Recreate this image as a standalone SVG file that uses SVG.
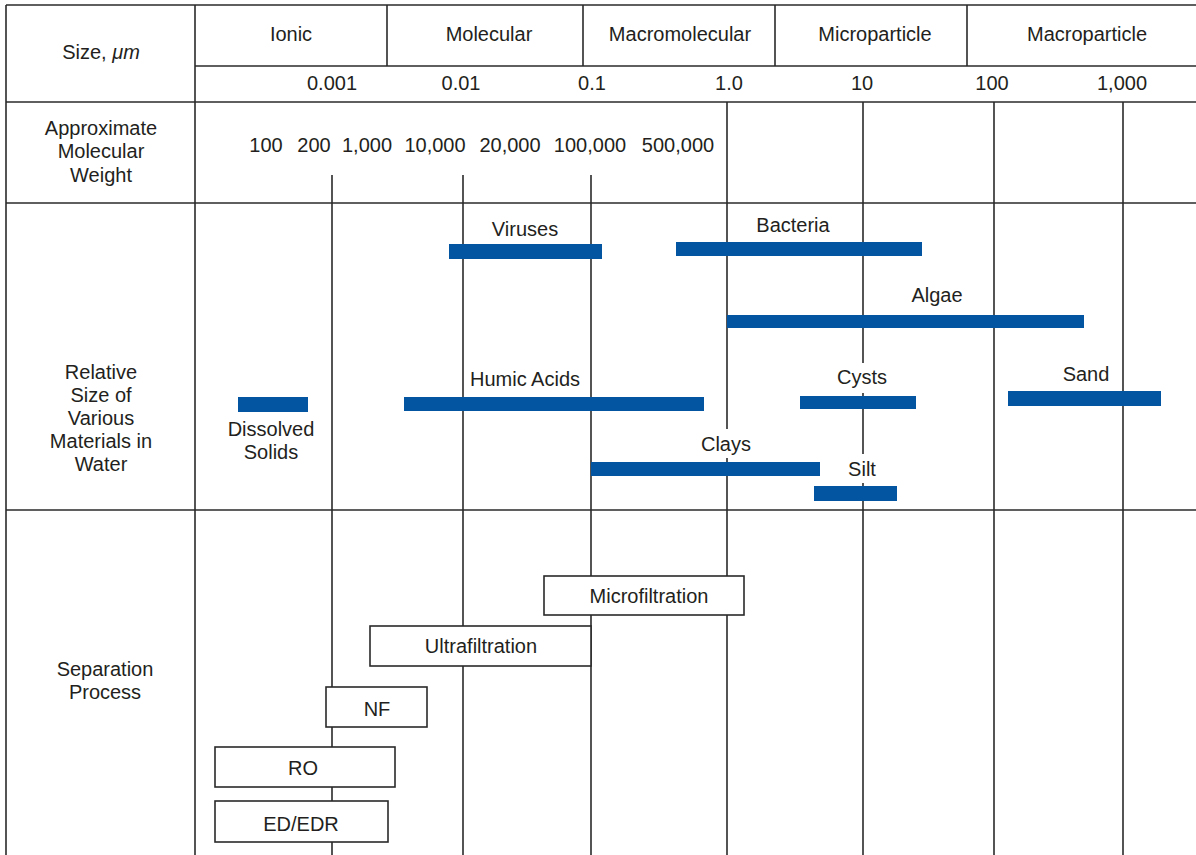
<svg xmlns="http://www.w3.org/2000/svg" width="1196" height="855" viewBox="0 0 1196 855">
<style>
text{font-family:"Liberation Sans",Arial,sans-serif;font-size:20px;fill:#231f20;text-anchor:middle}
.ln{stroke:#2a2a2a;stroke-width:1.6;fill:none}
.bar{fill:#0455a1}
.box{fill:#fff;stroke:#2a2a2a;stroke-width:1.6}
</style>
<rect width="1196" height="855" fill="#fff"/>
<g id="table" class="ln">
<line x1="6" y1="5" x2="1196" y2="5"/>
<line x1="6" y1="5" x2="6" y2="855"/>
<line x1="195" y1="5" x2="195" y2="855"/>
<line x1="195" y1="66" x2="1196" y2="66"/>
<line x1="6" y1="102" x2="1196" y2="102"/>
<line x1="6" y1="203" x2="1196" y2="203"/>
<line x1="6" y1="510" x2="1196" y2="510"/>
<line x1="387" y1="5" x2="387" y2="66"/>
<line x1="583" y1="5" x2="583" y2="66"/>
<line x1="775" y1="5" x2="775" y2="66"/>
<line x1="967" y1="5" x2="967" y2="66"/>
</g>
<g id="connectors" class="ln">
<line x1="332" y1="175" x2="332" y2="855"/>
<line x1="463" y1="175" x2="463" y2="855"/>
<line x1="591" y1="175" x2="591" y2="855"/>
<line x1="727" y1="102" x2="727" y2="429"/>
<line x1="727" y1="458" x2="727" y2="855"/>
<line x1="863" y1="102" x2="863" y2="363"/>
<line x1="863" y1="393" x2="863" y2="454"/>
<line x1="863" y1="483" x2="863" y2="855"/>
<line x1="994" y1="102" x2="994" y2="855"/>
<line x1="1123" y1="102" x2="1123" y2="855"/>
</g>
<g id="row-labels">
<text x="101" y="59">Size, <tspan font-style="italic">μm</tspan></text>
<text x="101" y="135">Approximate</text>
<text x="101" y="158">Molecular</text>
<text x="101" y="182">Weight</text>
<text x="101" y="379">Relative</text>
<text x="101" y="402">Size of</text>
<text x="101" y="425">Various</text>
<text x="101" y="448">Materials in</text>
<text x="101" y="471">Water</text>
<text x="105" y="676">Separation</text>
<text x="105" y="699">Process</text>
</g>
<g id="categories">
<text x="291" y="41">Ionic</text>
<text x="489" y="41">Molecular</text>
<text x="680" y="41">Macromolecular</text>
<text x="875" y="41">Microparticle</text>
<text x="1087" y="41">Macroparticle</text>
</g>
<g id="size-scale">
<text x="332" y="90">0.001</text>
<text x="461" y="90">0.01</text>
<text x="592" y="90">0.1</text>
<text x="729" y="90">1.0</text>
<text x="862" y="90">10</text>
<text x="992" y="90">100</text>
<text x="1122" y="90">1,000</text>
</g>
<g id="mw-scale">
<text x="266" y="152">100</text>
<text x="314" y="152">200</text>
<text x="367" y="152">1,000</text>
<text x="435" y="152">10,000</text>
<text x="510" y="152">20,000</text>
<text x="590" y="152">100,000</text>
<text x="678" y="152">500,000</text>
</g>
<g id="viruses"><rect class="bar" x="449" y="244" width="153" height="15"/><text x="525" y="236">Viruses</text></g>
<g id="bacteria"><rect class="bar" x="676" y="242" width="246" height="14"/><text x="793" y="232">Bacteria</text></g>
<g id="algae"><rect class="bar" x="727" y="315" width="357" height="13"/><text x="937" y="302">Algae</text></g>
<g id="dissolved-solids"><rect class="bar" x="238" y="397" width="70" height="15"/><text x="271" y="436">Dissolved</text><text x="271" y="459">Solids</text></g>
<g id="humic-acids"><rect class="bar" x="404" y="397" width="300" height="14"/><text x="525" y="386">Humic Acids</text></g>
<g id="cysts"><rect class="bar" x="800" y="396" width="116" height="13"/><text x="862" y="384">Cysts</text></g>
<g id="sand"><rect class="bar" x="1008" y="391" width="153" height="15"/><text x="1086" y="381">Sand</text></g>
<g id="clays"><rect class="bar" x="591" y="462" width="229" height="14"/><text x="726" y="451">Clays</text></g>
<g id="silt"><rect class="bar" x="814" y="486" width="83" height="15"/><text x="862" y="476">Silt</text></g>
<g id="microfiltration"><rect class="box" x="544" y="576" width="200" height="39"/><text x="649" y="603">Microfiltration</text></g>
<g id="ultrafiltration"><rect class="box" x="370" y="626" width="221" height="40"/><text x="481" y="653">Ultrafiltration</text></g>
<g id="nf"><rect class="box" x="326" y="687" width="101" height="40"/><text x="377" y="716">NF</text></g>
<g id="ro"><rect class="box" x="215" y="747" width="180" height="40"/><text x="303" y="775">RO</text></g>
<g id="ed-edr"><rect class="box" x="215" y="801" width="173" height="41"/><text x="301" y="831">ED/EDR</text></g>
</svg>
